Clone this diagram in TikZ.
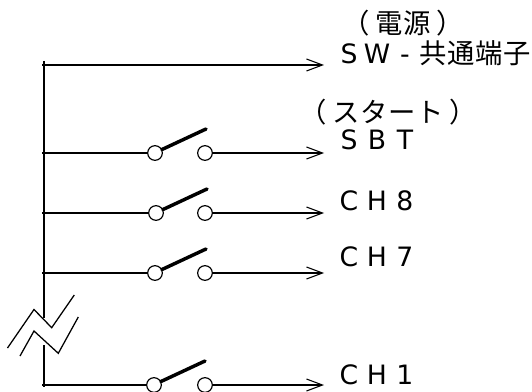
\documentclass[tikz,border=0pt]{standalone}
\usepackage{fontspec}
\usetikzlibrary{arrows.meta}
\newfontfamily\cjkf{Noto Sans CJK JP}
\newfontfamily\latf{DejaVu Sans}
\newcommand{\jc}[1]{\makebox[21pt][c]{\fontsize{20.5}{22}\selectfont\cjkf #1}}
\newcommand{\lp}{\makebox[21pt][c]{\hspace{-8pt}\fontsize{20.5}{22}\selectfont\cjkf （}}
\newcommand{\rp}{\makebox[21pt][c]{\hspace{8pt}\fontsize{20.5}{22}\selectfont\cjkf ）}}
\newcommand{\lc}[1]{\makebox[21pt][c]{\fontsize{20}{22}\selectfont\latf #1}}
\tikzset{
  wire/.style={line width=0.95pt,black},
  rail/.style={line width=1.1pt,black},
  feed/.style={wire,-{Straight Barb[length=12pt,width=9pt,line width=0.8pt]}},
  contact/.style={circle,draw,line width=0.9pt,fill=white,minimum size=11pt,inner sep=0pt},
  arm/.style={line width=2.6pt,line cap=round,black},
  brk/.style={line width=0.95pt,black},
  lbl/.style={inner sep=0pt,anchor=center}
}
\begin{document}
\begin{tikzpicture}[x=0.75pt,y=-0.75pt]
\useasboundingbox (0,0) rectangle (532,392);
\coordinate (top) at (44,61);
\coordinate (breakA) at (44,318);
\coordinate (breakB) at (44,345);
\coordinate (bot) at (44,387);
\draw[rail] (top) -- (breakA);
\draw[rail] (breakB) -- (bot);
% power line
\coordinate (r0) at (42,65);
\coordinate (e0) at (324,65);
\draw[feed] (r0) -- (e0);
% switch rows
\foreach \n/\y/\dx in {1/153/0,2/213/1,3/273/0,4/385/-1}{
  \coordinate (r\n) at (42,\y);
  \coordinate (e\n) at (324,\y);
  \node[contact] (l\n) at (155+\dx,\y) {};
  \node[contact] (c\n) at (205,\y) {};
  \coordinate (t\n) at (206+\dx,\y-24);
  \draw[wire] (r\n) -- (l\n);
  \draw[feed] (c\n) -- (e\n);
  \draw[arm] (l\n) ++(7,-3.5) -- (t\n);
}
% break mark
\draw[brk] (7.5,348) -- (34,309.5) -- (51.7,327.7) -- (74.3,295);
\draw[brk] (20,356) -- (34,331) -- (58.3,353.3) -- (78.3,317);
% labels
\node[lbl] (t1) at (403,23) {\lp\jc{電}\jc{源}\rp};
\node[lbl] (t2) at (433,53) {\lc{S}\lc{W}\lc{-}\jc{共}\jc{通}\jc{端}\jc{子}};
\node[lbl] (t3) at (388,112) {\lp\jc{ス}\jc{タ}\jc{ー}\jc{ト}\rp};
\node[lbl] (t4) at (377,140) {\lc{S}\lc{B}\lc{T}};
\node[lbl] (t5) at (377,201) {\lc{C}\lc{H}\lc{8}};
\node[lbl] (t6) at (377,257) {\lc{C}\lc{H}\lc{7}};
\node[lbl] (t7) at (377,375) {\lc{C}\lc{H}\lc{1}};
\end{tikzpicture}
\end{document}
